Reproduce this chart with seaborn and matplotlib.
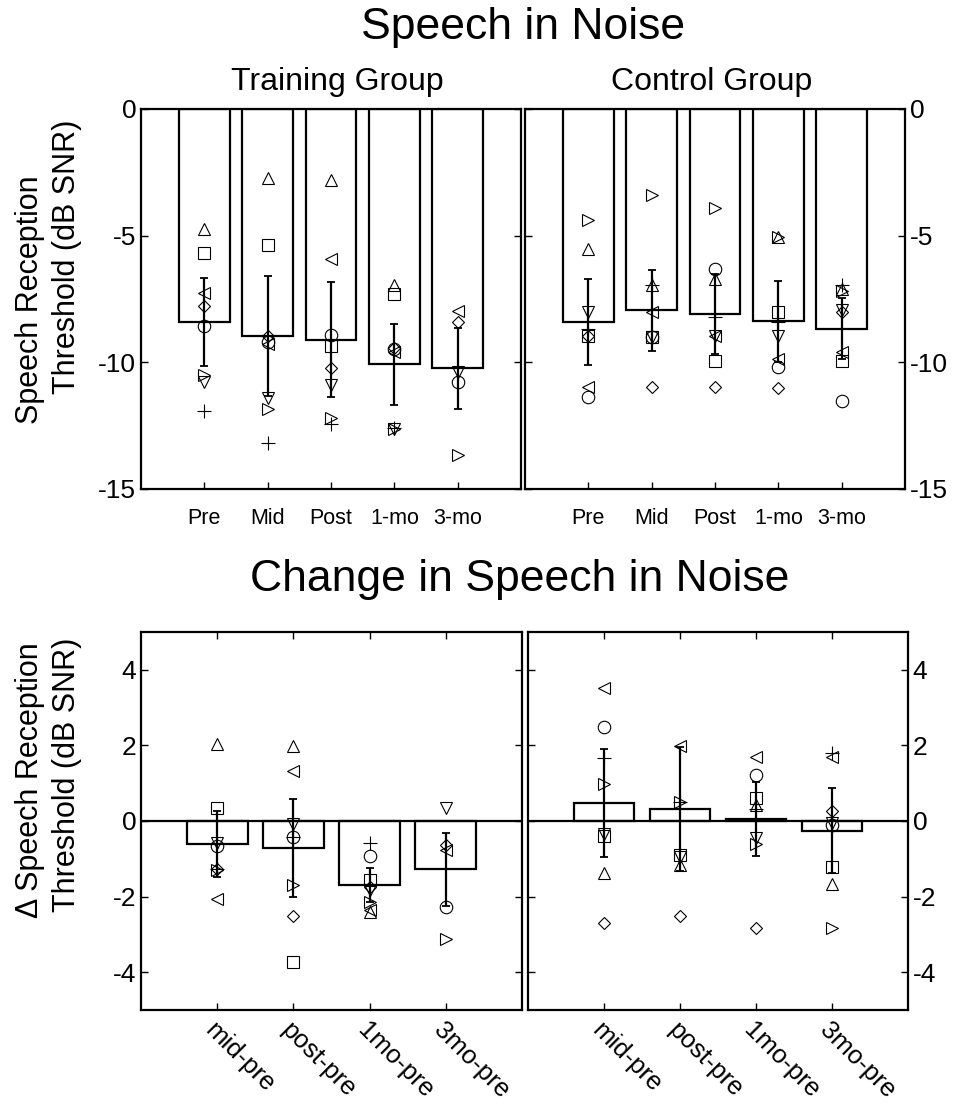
import numpy as np
import pandas as pd
import matplotlib
matplotlib.use("Agg")
import matplotlib.pyplot as plt
import seaborn as sns

nan = np.nan

# ---- sessions / labels ----
sessions = ["Pre", "Mid", "Post", "1-mo", "3-mo"]
changes = ["mid-pre", "post-pre", "1mo-pre", "3mo-pre"]

# ---- Training group: threshold per session (dB SNR) ----
train_mean = [-8.42, -8.97, -9.10, -10.08, -10.24]
train_err = [1.74, 2.37, 2.26, 1.60, 1.59]
train_circle = [-8.55, -9.21, -8.92, -9.47, -10.77]
train_plus = [-11.93, -13.17, -12.44, -12.60, nan]
train_square = [-5.67, -5.36, -9.37, -7.29, nan]
train_diamond = [-7.76, -8.97, -10.24, -9.44, -8.39]
train_up = [-4.72, -2.74, -2.81, -6.96, nan]
train_down = [-10.79, -11.39, -10.90, -12.64, -10.40]
train_right = [-10.50, -11.85, -12.19, -12.64, -13.64]
train_left = [-7.26, -9.27, -5.91, -9.60, -7.99]

# ---- Control group: threshold per session (dB SNR) ----
ctrl_mean = [-8.42, -7.94, -8.09, -8.38, -8.67]
ctrl_err = [1.70, 1.60, 1.58, 1.60, 1.21]
ctrl_circle = [-11.38, -9.00, -6.31, -10.17, -11.52]
ctrl_plus = [-8.70, -6.93, -8.22, -8.40, -6.96]
ctrl_square = [-8.98, -9.00, -9.93, -8.02, -9.93]
ctrl_diamond = [-8.95, -10.99, -10.99, -11.00, -8.00]
ctrl_up = [-5.54, -6.93, -6.70, -5.05, -7.10]
ctrl_down = [-8.02, -9.00, -8.98, -8.98, -7.95]
ctrl_right = [-4.39, -3.40, -3.90, -5.05, -7.20]
ctrl_left = [-10.96, -8.02, -8.98, -9.87, -9.60]

# ---- Training group: change from pre (dB) ----
dtrain_mean = [-0.61, -0.71, -1.69, -1.28]
dtrain_err = [0.87, 1.30, 0.44, 0.97]
dtrain_circle = [-0.66, -0.42, -0.93, -2.28]
dtrain_plus = [-1.28, -0.42, -0.59, nan]
dtrain_square = [0.34, -3.72, -1.56, nan]
dtrain_diamond = [-1.28, -2.52, -1.74, -0.64]
dtrain_up = [2.03, 1.99, -2.40, nan]
dtrain_down = [-0.57, -0.08, -1.83, 0.34]
dtrain_right = [-1.30, -1.68, -2.14, -3.13]
dtrain_left = [-2.07, 1.33, -2.36, -0.77]

# ---- Control group: change from pre (dB) ----
dctrl_mean = [0.48, 0.32, 0.05, -0.26]
dctrl_err = [1.43, 1.63, 0.97, 1.12]
dctrl_circle = [2.50, 5.07, 1.23, -0.11]
dctrl_plus = [1.67, 0.49, 0.33, 1.79]
dctrl_square = [-0.39, -0.90, 0.60, -1.21]
dctrl_diamond = [-2.70, -2.50, -2.82, 0.27]
dctrl_up = [-1.37, -1.16, 0.42, -1.67]
dctrl_down = [-0.35, -0.94, -0.44, -0.04]
dctrl_right = [0.99, 0.49, -0.62, -2.82]
dctrl_left = [3.51, 1.99, 1.70, 1.68]

# one marker per listener
marker_styles = [("o", 9.0), ("+", 10.0), ("s", 8.0), ("D", 6.5),
                 ("^", 9.0), ("v", 9.0), (">", 9.0), ("<", 9.0)]

sns.set_theme(style="white")
plt.rcParams["font.family"] = ["Liberation Sans", "DejaVu Sans"]
plt.rcParams["axes.unicode_minus"] = False

fig = plt.figure(figsize=(9.58, 11.10), dpi=100)
W, H = 958.0, 1110.0


def add_axes(x0, y0, x1, y1):
    return fig.add_axes([x0 / W, 1 - y1 / H, (x1 - x0) / W, (y1 - y0) / H])


ax_tl = add_axes(141, 109, 521, 489)
ax_tr = add_axes(525, 109, 905, 489)
ax_bl = add_axes(141, 632, 522, 1010)
ax_br = add_axes(528, 632, 908, 1010)


def draw_panel(ax, labels, mean, err, subjects, ylim, zero_line=False):
    df = pd.DataFrame({"cond": labels, "value": mean})
    sns.barplot(data=df, x="cond", y="value", order=labels, color="white",
                saturation=1, edgecolor="black", linewidth=1.6, width=0.8,
                errorbar=None, ax=ax, zorder=1)
    pos = np.arange(len(labels))
    ax.errorbar(pos, mean, yerr=err, fmt="none", ecolor="black",
                elinewidth=1.6, capsize=3, capthick=1.3, zorder=3)
    lo, hi = ylim
    for vals, (mk, ms) in zip(subjects, marker_styles):
        v = np.asarray(vals, dtype=float)
        # points whose centre falls outside the axis range are not drawn
        v = np.where((v < lo) | (v > hi), nan, v)
        ax.plot(pos, v, linestyle="none", marker=mk, markersize=ms,
                markerfacecolor="none", markeredgecolor="black",
                markeredgewidth=0.8, color="black", zorder=4)
    if zero_line:
        ax.axhline(0, color="black", linewidth=1.6, zorder=2)
    ax.set_xlim(-1, len(labels))
    ax.set_ylim(lo, hi)
    ax.set_xlabel("")
    ax.set_ylabel("")
    for sp in ax.spines.values():
        sp.set_color("black")
        sp.set_linewidth(1.6)
    ax.tick_params(direction="in", length=5, width=1, colors="black",
                   top=True, bottom=True, left=True, right=True)


train_subj = [train_circle, train_plus, train_square, train_diamond,
              train_up, train_down, train_right, train_left]
ctrl_subj = [ctrl_circle, ctrl_plus, ctrl_square, ctrl_diamond,
             ctrl_up, ctrl_down, ctrl_right, ctrl_left]
dtrain_subj = [dtrain_circle, dtrain_plus, dtrain_square, dtrain_diamond,
               dtrain_up, dtrain_down, dtrain_right, dtrain_left]
dctrl_subj = [dctrl_circle, dctrl_plus, dctrl_square, dctrl_diamond,
              dctrl_up, dctrl_down, dctrl_right, dctrl_left]

draw_panel(ax_tl, sessions, train_mean, train_err, train_subj, (-15, 0))
draw_panel(ax_tr, sessions, ctrl_mean, ctrl_err, ctrl_subj, (-15, 0))
draw_panel(ax_bl, changes, dtrain_mean, dtrain_err, dtrain_subj, (-5, 5),
           zero_line=True)
draw_panel(ax_br, changes, dctrl_mean, dctrl_err, dctrl_subj, (-5, 5),
           zero_line=True)

# threshold panels
for ax in (ax_tl, ax_tr):
    ax.set_yticks([-15, -10, -5, 0])
    ax.set_yticklabels(["-15", "-10", "-5", "0"], fontsize=19)
    ax.set_xticks(range(len(sessions)))
    ax.set_xticklabels(sessions, fontsize=15.5)
    ax.tick_params(axis="x", pad=14)
ax_tr.tick_params(labelleft=False, labelright=True)

# change panels
for ax in (ax_bl, ax_br):
    ax.set_yticks([-4, -2, 0, 2, 4])
    ax.set_yticklabels(["-4", "-2", "0", "2", "4"], fontsize=19)
    ax.set_xticks(range(len(changes)))
    ax.set_xticklabels(changes, fontsize=18.5, rotation=-45, ha="left",
                       va="top", rotation_mode="anchor")
    ax.tick_params(axis="x", pad=6)
ax_br.tick_params(labelleft=False, labelright=True)

# titles
fig.text(523 / W, 1 - 27 / H, "Speech in Noise", ha="center", va="center",
         fontsize=32, color="black")
fig.text(337 / W, 1 - 82 / H, "Training Group", ha="center", va="center",
         fontsize=23, color="black")
fig.text(712 / W, 1 - 82 / H, "Control Group", ha="center", va="center",
         fontsize=23, color="black")
fig.text(520 / W, 1 - 580 / H, "Change in Speech in Noise", ha="center",
         va="center", fontsize=32, color="black")

# axis labels
fig.text(30 / W, 1 - 300 / H, "Speech Reception", rotation=90, ha="center",
         va="center", fontsize=22, color="black")
fig.text(67 / W, 1 - 257 / H, "Threshold (dB SNR)", rotation=90, ha="center",
         va="center", fontsize=22, color="black")
fig.text(30 / W, 1 - 780 / H, "\u0394 Speech Reception", rotation=90,
         ha="center", va="center", fontsize=22, color="black")
fig.text(67 / W, 1 - 775 / H, "Threshold (dB SNR)", rotation=90, ha="center",
         va="center", fontsize=22, color="black")

fig.savefig("out.png", dpi=100, facecolor="white")
